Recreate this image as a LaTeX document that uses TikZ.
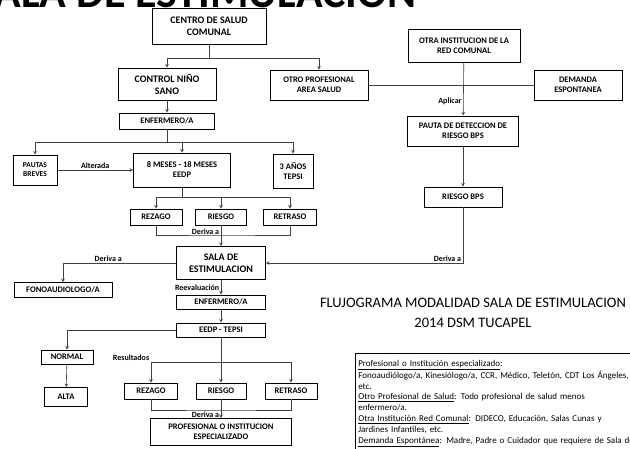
\documentclass[tikz,border=0pt]{standalone}
\usepackage{fontspec}
\setmainfont{Carlito}
\usetikzlibrary{arrows}
\tikzstyle{caja} = [rectangle, draw=black, fill=white, line width=0.8pt, text centered, align=center, inner sep=1pt, font=\bfseries\fontsize{8.5}{10}\selectfont]
\tikzstyle{grande} = [font=\bfseries\fontsize{10}{12}\selectfont]
\tikzstyle{chica} = [font=\bfseries\fontsize{7.5}{9}\selectfont]
\tikzstyle{flecha} = [->, >=stealth, draw=black!75, line width=0.6pt]
\tikzstyle{linea} = [draw=black!75, line width=0.6pt]
\tikzstyle{etiqueta} = [font=\bfseries\fontsize{8}{10}\selectfont, inner sep=1.5pt]

\begin{document}
\begin{tikzpicture}[x=1pt, y=-1pt]
   \useasboundingbox (0,0) rectangle (630,449);
   \clip (0,0) rectangle (630,449);
   % titulo (cortado arriba)
   \node (cabecera) [anchor=base west, inner sep=0pt, font=\bfseries\fontsize{44}{44}\selectfont] at (-26,8) {SALA DE ESTIMULACION};
   % columna izquierda
   \node (centro) [caja, grande, minimum width=114pt, minimum height=36pt] at (209,26) {CENTRO DE SALUD\\COMUNAL};
   \node (control) [caja, grande, minimum width=98pt, minimum height=32pt] at (167,84) {CONTROL NIÑO\\SANO};
   \node (otroprof) [caja, minimum width=98pt, minimum height=30pt] at (319,85) {OTRO PROFESIONAL\\AREA SALUD};
   \node (enf1) [caja, minimum width=95pt, minimum height=16pt] at (167,121) {ENFERMERO/A};
   \node (pautas) [caja, chica, minimum width=44pt, minimum height=30pt] at (35,170) {PAUTAS\\BREVES};
   \node (meses) [caja, minimum width=97pt, minimum height=34pt] at (182,170) {8 MESES - 18 MESES\\EEDP};
   \node (tepsi) [caja, minimum width=40pt, minimum height=34pt] at (293,171) {3 AÑOS\\TEPSI};
   \node (rezago) [caja, minimum width=52pt, minimum height=16pt] at (156,217) {REZAGO};
   \node (riesgo) [caja, minimum width=51pt, minimum height=16pt] at (221,217) {RIESGO};
   \node (retraso) [caja, minimum width=53pt, minimum height=16pt] at (290,217) {RETRASO};
   \node (sala) [caja, grande, minimum width=89pt, minimum height=33pt] at (221,263) {SALA DE\\ESTIMULACION};
   \node (fono) [caja, minimum width=98pt, minimum height=15pt] at (63,290) {FONOAUDIOLOGO/A};
   \node (enf2) [caja, minimum width=89pt, minimum height=14pt] at (221,302) {ENFERMERO/A};
   \node (eedp) [caja, minimum width=89pt, minimum height=14pt] at (221,330) {EEDP - TEPSI};
   \node (normal) [caja, minimum width=52pt, minimum height=14pt] at (67,357) {NORMAL};
   \node (alta) [caja, minimum width=43pt, minimum height=19pt] at (66,397) {ALTA};
   \node (rezago2) [caja, minimum width=53pt, minimum height=16pt] at (151,391) {REZAGO};
   \node (riesgo2) [caja, minimum width=50pt, minimum height=16pt] at (221,391) {RIESGO};
   \node (retraso2) [caja, minimum width=52pt, minimum height=16pt] at (291,391) {RETRASO};
   \node (profesional) [caja, minimum width=141pt, minimum height=27pt] at (221,432) {PROFESIONAL  O INSTITUCION\\ESPECIALIZADO};
   % columna derecha
   \node (otrainst) [caja, minimum width=112pt, minimum height=33pt] at (464,46) {OTRA INSTITUCION DE LA\\RED COMUNAL};
   \node (demanda) [caja, minimum width=88pt, minimum height=30pt] at (578,85) {DEMANDA\\ESPONTANEA};
   \node (pauta) [caja, minimum width=111pt, minimum height=30pt] at (463,131) {PAUTA DE DETECCION DE\\RIESGO BPS};
   \node (riesgobps) [caja, minimum width=78pt, minimum height=20pt] at (463,197) {RIESGO BPS};
   % flechas
   \draw [flecha] (centro.south) -- ++(0,14) -| (control.north);
   \draw [flecha] (centro.south) -- ++(0,14) -| (otroprof.north);
   \draw [flecha] (control) -- (enf1);
   \draw [flecha] (enf1.south) -- ++(0,13) -| (pautas.north);
   \draw [flecha] (enf1.south) -- ++(0,13) -| (meses.north);
   \draw [flecha] (enf1.south) -- ++(0,13) -| (tepsi.north);
   \draw [flecha] (pautas) -- node[etiqueta, above] {Alterada} (meses);
   \draw [flecha] (meses.south) -- ++(0,10) -| (rezago.north);
   \draw [flecha] (meses.south) -- ++(0,10) -| (riesgo.north);
   \draw [flecha] (meses.south) -- ++(0,10) -| (retraso.north);
   \coordinate (deriva1) at (221,235);
   \draw [linea] (rezago.south) |- (deriva1) -| (retraso.south);
   \draw [flecha] (riesgo) -- node[etiqueta, pos=0.3, left] {Deriva a} (sala);
   \draw [flecha] (sala.west) -| node[etiqueta, pos=0.3, above] {Deriva a} (fono.north);
   \draw [flecha] (sala) -- node[etiqueta, left] {Reevaluación} (enf2);
   \draw [flecha] (enf2) -- (eedp);
   \draw [flecha] (eedp.west) -| (normal.north);
   \draw [flecha] (normal) -- (alta);
   \draw [flecha] (eedp) -- (riesgo2);
   \coordinate (resultados) at (221,362);
   \draw [flecha] (resultados) -| node[etiqueta, pos=0.5, above left] {Resultados} (rezago2.north);
   \draw [flecha] (resultados) -| (retraso2.north);
   \coordinate (deriva2) at (221,410);
   \draw [linea] (rezago2.south) |- (deriva2) -| (retraso2.south);
   \draw [flecha] (riesgo2) -- node[etiqueta, pos=0.8, left] {Deriva a} (profesional);
   \draw [linea] (otroprof) -- (demanda);
   \draw [flecha] (otrainst) -- node[etiqueta, pos=0.72, left] {Aplicar} (pauta);
   \draw [flecha] (pauta) -- (riesgobps);
   \draw [flecha] (riesgobps.south) |- node[etiqueta, pos=0.5, above left] {Deriva a} (sala.east);
   % titulo y leyenda
   \node (titulo) [align=center, font=\fontsize{14.5}{20}\selectfont] at (473,313) {FLUJOGRAMA MODALIDAD SALA DE ESTIMULACION\\2014 DSM TUCAPEL};
   \node (leyenda) [draw=black, line width=0.6pt, anchor=north west, text width=330pt, minimum height=100pt, inner xsep=3pt, inner ysep=1pt, align=left, font=\fontsize{9}{10.8}\selectfont] at (355,353) {\underline{Profesional o Institución especializado}:\\
   Fonoaudiólogo/a, Kinesiólogo/a, CCR, Médico, Teletón, CDT Los Ángeles,\\
   etc.\\
   \underline{Otro Profesional de Salud}: Todo profesional de salud menos\\
   enfermero/a.\\
   \underline{Otra Institución Red Comunal}: DIDECO, Educación, Salas Cunas y\\
   Jardines Infantiles, etc.\\
   \underline{Demanda Espontánea}: Madre, Padre o Cuidador que requiere de Sala de};
\end{tikzpicture}
\end{document}
